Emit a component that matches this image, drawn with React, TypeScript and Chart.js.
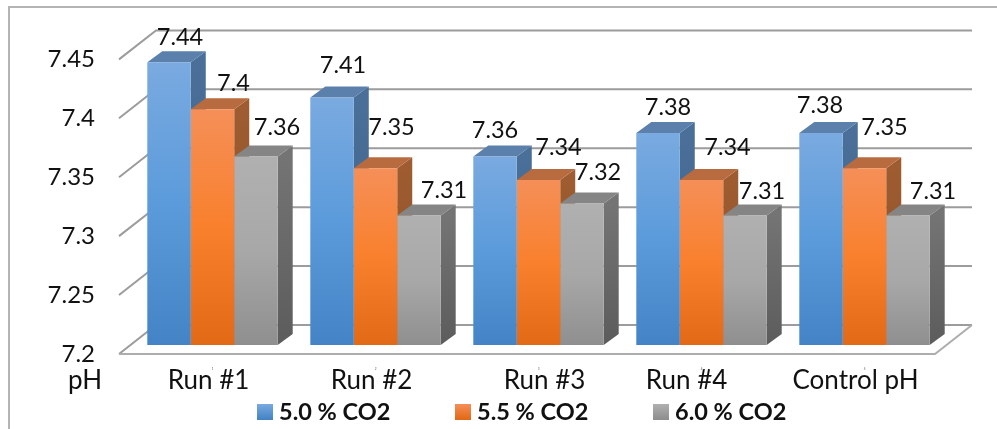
import { useEffect, useRef } from "react";
import { Chart, registerables } from "chart.js";

Chart.register(...registerables);

// pH readings per run and CO2 level
const categories = ["Run #1", "Run #2", "Run #3", "Run #4", "Control pH"];
const axisIndexLabels = ["1", "2", "3", "4", "5"];
const co2Five = [7.44, 7.41, 7.36, 7.38, 7.38];
const co2FiveFive = [7.4, 7.35, 7.34, 7.34, 7.35];
const co2Six = [7.36, 7.31, 7.32, 7.31, 7.31];
const seriesNames = ["5.0 % CO2", "5.5 % CO2", "6.0 % CO2"];
const axisName = "pH";

// Face colours for each series: front gradient stops, top face, side gradient stops
const blueFace = { front: ["#7aaae0", "#5b9bdb", "#4484c6"], top: "#5a80ab", side: ["#4a6f98", "#3f6288"] };
const orangeFace = { front: ["#f58f58", "#f9802d", "#e26a17"], top: "#b96b40", side: ["#9e5c30", "#8a4f28"] };
const greyFace = { front: ["#b0b0b0", "#a8a8a8", "#8f8f8f"], top: "#858585", side: ["#747474", "#5c5c5c"] };
const faces = [blueFace, orangeFace, greyFace];

// Depth of the bars and of the walls, in pixels
const BAR_DX = 15;
const BAR_DY = 11;
const WALL_DX = 37;
const WALL_DY = 29;
const FRONT_DROP = 9;
const LABEL_FONT = "23.5px Lato";
const CAPTION_FONT = "26px Lato";

// Where each value label sits relative to the top centre of its bar
const labelNudges = [
  [[11, -25], [11, -32], [0, -26], [10, -25], [-1, -27]],
  [[21, -26], [16, -41], [20, -33], [26, -33], [20, -41]],
  [[21, -29], [25, -25], [16, -31], [17, -24], [25, -24]],
];
// Horizontal shift of each category caption from its group centre
const captionNudges = [-4, -4, 6, -15, -9];

function frontFill(stops: string[]) {
  return (c: any) => {
    const y = c.chart.scales?.y;
    if (!y || c.parsed === undefined || !c.chart.chartArea) return stops[1];
    const g = c.chart.ctx.createLinearGradient(0, y.getPixelForValue(c.parsed.y), 0, y.getPixelForValue(y.min));
    g.addColorStop(0, stops[0]);
    g.addColorStop(0.5, stops[1]);
    g.addColorStop(1, stops[2]);
    return g;
  };
}

function polygon(ctx: CanvasRenderingContext2D, pts: number[][], fill: string | CanvasGradient) {
  ctx.beginPath();
  pts.forEach(([x, y], i) => (i ? ctx.lineTo(x, y) : ctx.moveTo(x, y)));
  ctx.closePath();
  ctx.fillStyle = fill;
  ctx.fill();
}

const wallsAndDepth = {
  id: "wallsAndDepth",
  beforeDatasetsDraw(chart: any) {
    const { ctx, scales, chartArea } = chart;
    const yScale = scales.y;
    ctx.save();

    // chart frame
    ctx.strokeStyle = "#b4b4b4";
    ctx.lineWidth = 2;
    ctx.beginPath();
    ctx.moveTo(9, 429);
    ctx.lineTo(9, 7);
    ctx.lineTo(997, 7);
    ctx.stroke();

    // side wall and back wall rules
    const wallLeft = chartArea.left - 12;
    const wallRight = chartArea.right - 11 + WALL_DX;
    ctx.strokeStyle = "#9c9c9c";
    ctx.lineWidth = 2;
    yScale.ticks.forEach((t: any) => {
      const fy = yScale.getPixelForValue(t.value) + FRONT_DROP;
      ctx.beginPath();
      ctx.moveTo(wallLeft, fy);
      ctx.lineTo(wallLeft + WALL_DX, fy - WALL_DY);
      ctx.lineTo(wallRight, fy - WALL_DY);
      ctx.stroke();
    });

    // front edge of the floor
    const floorY = yScale.getPixelForValue(yScale.min) + FRONT_DROP;
    ctx.strokeStyle = "#adadad";
    ctx.beginPath();
    ctx.moveTo(wallLeft, floorY);
    ctx.lineTo(wallRight - WALL_DX, floorY);
    ctx.lineTo(wallRight, floorY - WALL_DY);
    ctx.stroke();

    // top and side faces of the bars; the front faces are painted over them
    const base = yScale.getPixelForValue(yScale.min);
    chart.data.datasets.forEach((_: any, d: number) => {
      chart.getDatasetMeta(d).data.forEach((bar: any) => {
        const l = bar.x - bar.width / 2;
        const r = bar.x + bar.width / 2;
        const grad = ctx.createLinearGradient(0, bar.y, 0, base);
        grad.addColorStop(0, faces[d].side[0]);
        grad.addColorStop(1, faces[d].side[1]);
        polygon(ctx, [[r, bar.y], [r + BAR_DX, bar.y - BAR_DY], [r + BAR_DX, base - BAR_DY], [r, base]], grad);
        polygon(ctx, [[l, bar.y], [l + BAR_DX, bar.y - BAR_DY], [r + BAR_DX, bar.y - BAR_DY], [r, bar.y]], faces[d].top);
      });
    });
    ctx.restore();
  },
};

const textOverlay = {
  id: "textOverlay",
  afterDatasetsDraw(chart: any) {
    const { ctx, scales } = chart;
    ctx.save();
    ctx.fillStyle = "#111111";
    ctx.textBaseline = "middle";
    ctx.textAlign = "center";

    // value labels
    ctx.font = LABEL_FONT;
    chart.data.datasets.forEach((ds: any, d: number) => {
      chart.getDatasetMeta(d).data.forEach((bar: any, i: number) => {
        const [dx, dy] = labelNudges[d][i];
        ctx.fillText(String(ds.data[i]), bar.x + dx, bar.y + dy);
      });
    });

    // category captions and axis name
    ctx.font = CAPTION_FONT;
    categories.forEach((name, i) => {
      ctx.fillText(name, scales.x.getPixelForValue(i) + captionNudges[i], 381);
    });
    ctx.fillText(axisName, 85, 381);

    // legend row
    const starts = [257, 455, 653];
    ctx.textAlign = "left";
    ctx.font = "bold 23.5px Lato";
    seriesNames.forEach((name, d) => {
      const g = ctx.createLinearGradient(0, 404, 0, 419);
      g.addColorStop(0, faces[d].front[0]);
      g.addColorStop(1, faces[d].front[2]);
      ctx.fillStyle = g;
      ctx.fillRect(starts[d], 404, 16, 16);
      ctx.fillStyle = "#111111";
      ctx.fillText(name, starts[d] + 22, 412);
    });
    ctx.restore();
  },
};

export default function App() {
  const ref = useRef<HTMLCanvasElement>(null);

  useEffect(() => {
    const datasets = [co2Five, co2FiveFive, co2Six].map((data, d) => ({
      label: seriesNames[d],
      data,
      backgroundColor: frontFill(faces[d].front),
      categoryPercentage: 0.8,
      barPercentage: 1,
    }));
    const chart = new Chart(ref.current as HTMLCanvasElement, {
      type: "bar",
      data: { labels: axisIndexLabels, datasets },
      plugins: [wallsAndDepth, textOverlay],
      options: {
        responsive: false,
        animation: false,
        layout: { padding: { top: 50, right: 51, left: 0, bottom: 0 } },
        plugins: { legend: { display: false }, tooltip: { enabled: false } },
        scales: {
          x: {
            grid: { display: false },
            border: { display: false },
            ticks: { font: { size: 3, family: "Lato" }, color: "#555555", padding: 14, maxRotation: 0 },
            afterFit: (axis: any) => {
              axis.height = 84;
            },
          },
          y: {
            min: 7.2,
            max: 7.45,
            grid: { display: false, drawTicks: false },
            border: { display: false },
            ticks: {
              stepSize: 0.05,
              padding: 36,
              labelOffset: 9,
              color: "#111111",
              font: { size: 24, family: "Lato" },
              callback: (v: any) => String(Number(Number(v).toFixed(2))),
            },
            afterFit: (axis: any) => {
              axis.width = 131;
            },
          },
        },
      },
    } as any);
    return () => chart.destroy();
  }, []);

  return (
    <div style={{ position: "fixed", left: 0, top: 0, width: 997, height: 429, background: "#ffffff" }}>
      <canvas ref={ref} width={997} height={429} style={{ display: "block" }} />
    </div>
  );
}
